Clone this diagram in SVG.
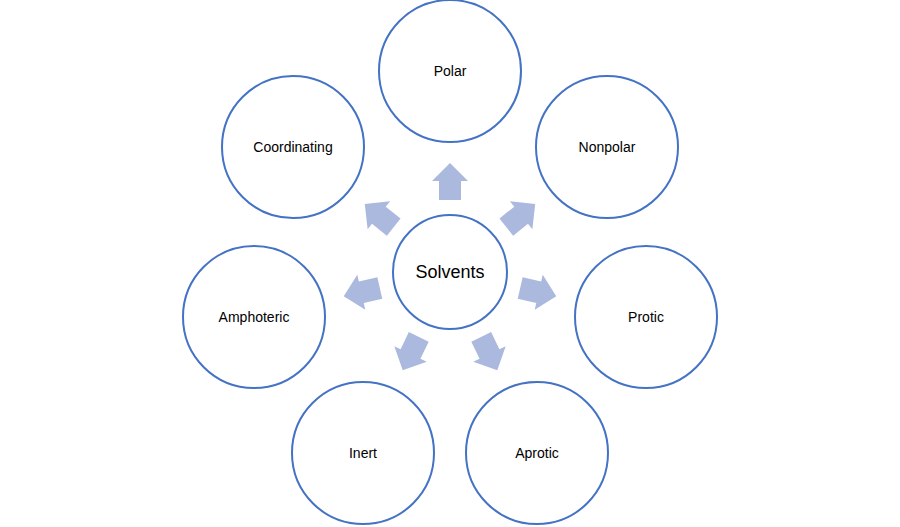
<svg xmlns="http://www.w3.org/2000/svg" width="900" height="527" viewBox="0 0 900 527">
<style>
.c{fill:#fff;stroke:#4472c4;stroke-width:2}
.t{font-family:"Liberation Sans","Open Sans",sans-serif;font-size:14px;fill:#000;text-anchor:middle;dominant-baseline:central}
.a{fill:#abb9df}
</style>
<defs><path id="arr" d="M-11,-72 L-11,-91 L-18,-91 L0,-109 L18,-91 L11,-91 L11,-72 Z"/></defs>
<rect width="900" height="527" fill="#fff"/>
<g id="connectors">
<use href="#arr" class="a" transform="translate(450,272) rotate(0)"/>
<use href="#arr" class="a" transform="translate(450,272) rotate(51.43)"/>
<use href="#arr" class="a" transform="translate(450,272) rotate(102.86)"/>
<use href="#arr" class="a" transform="translate(450,272) rotate(154.29)"/>
<use href="#arr" class="a" transform="translate(450,272) rotate(205.71)"/>
<use href="#arr" class="a" transform="translate(450,272) rotate(257.14)"/>
<use href="#arr" class="a" transform="translate(450,272) rotate(308.57)"/>
</g>
<g id="solvents"><circle class="c" cx="450" cy="272" r="57"/><text class="t" x="450" y="272" style="font-size:18px">Solvents</text></g>
<g id="polar"><circle class="c" cx="450" cy="71" r="71"/><text class="t" x="450" y="71">Polar</text></g>
<g id="nonpolar"><circle class="c" cx="607" cy="147" r="71"/><text class="t" x="607" y="147">Nonpolar</text></g>
<g id="protic"><circle class="c" cx="646" cy="317" r="71"/><text class="t" x="646" y="317">Protic</text></g>
<g id="aprotic"><circle class="c" cx="537" cy="453" r="71"/><text class="t" x="537" y="453">Aprotic</text></g>
<g id="inert"><circle class="c" cx="363" cy="453" r="71"/><text class="t" x="363" y="453">Inert</text></g>
<g id="amphoteric"><circle class="c" cx="254" cy="317" r="71"/><text class="t" x="254" y="317">Amphoteric</text></g>
<g id="coordinating"><circle class="c" cx="293" cy="147" r="71"/><text class="t" x="293" y="147">Coordinating</text></g>
</svg>
